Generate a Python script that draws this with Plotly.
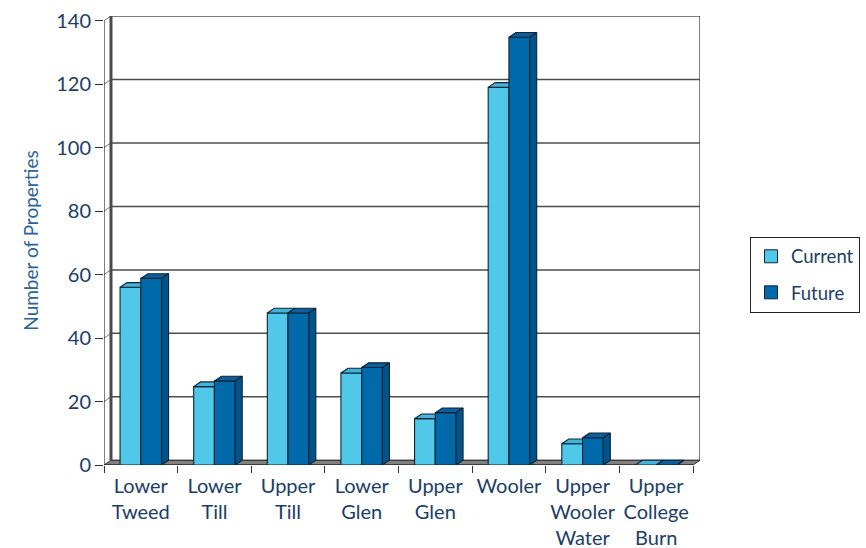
import plotly.graph_objects as go

categories = ["Lower<br>Tweed", "Lower<br>Till", "Upper<br>Till", "Lower<br>Glen",
              "Upper<br>Glen", "Wooler", "Upper<br>Wooler<br>Water", "Upper<br>College<br>Burn"]
current = [56, 24.7, 47.9, 29, 14.6, 119, 6.7, 0]
future = [58.8, 26.5, 47.9, 30.7, 16.5, 134.8, 8.6, 0]
y_ticks = [0, 20, 40, 60, 80, 100, 120, 140]
series_names = ["Current", "Future"]

# styling / geometry
W, H = 866, 548
ML, MR, MT, MB = 104, 166, 16, 82.5
YMAX = 140
DY = 1.48          # depth offset in y units
DX = 0.095         # depth offset in x units
BW = 0.282         # bar width in category units
XR = [-0.5, len(categories) - 0.5 + DX]

TXT = "#1b3d66"
FONT = "Lato"
OUT = "#0d2436"
cols = {
    "Current": dict(front="#50C8EA", top="#42B4DA", side="#2F9CC4"),
    "Future": dict(front="#0069A9", top="#0A5F9C", side="#00548A"),
}

fig = go.Figure()

for s, vals in enumerate([current, future]):
    name = series_names[s]
    c = cols[name]
    fx, fy, tx, ty, sx, sy = [], [], [], [], [], []
    for i, v in enumerate(vals):
        x0 = i - BW + s * BW
        x1 = x0 + BW
        fx += [x0, x1, x1, x0, x0, None]
        fy += [0, 0, v, v, 0, None]
        tx += [x0, x1, x1 + DX, x0 + DX, x0, None]
        ty += [v, v, v + DY, v + DY, v, None]
        sx += [x1, x1 + DX, x1 + DX, x1, x1, None]
        sy += [0, DY, v + DY, v, 0, None]
    for xs, ys, col in [(fx, fy, c["front"]), (tx, ty, c["top"]), (sx, sy, c["side"])]:
        fig.add_trace(go.Scatter(x=xs, y=ys, mode="lines", fill="toself", fillcolor=col,
                                 line=dict(color=OUT, width=1.1), hoverinfo="skip",
                                 showlegend=False))

# legend entries
for s, name in enumerate(series_names):
    fig.add_trace(go.Scatter(x=[None], y=[None], mode="markers", name=name,
                             legendgroup=name,
                             marker=dict(symbol="square", size=13, color=cols[name]["front"],
                                         line=dict(color=OUT, width=1))))

shapes = []
x_left = -0.5
x_right = len(categories) - 0.5
# back wall
shapes.append(dict(type="rect", xref="x", yref="y", x0=x_left + DX, x1=x_right + DX,
                   y0=DY, y1=YMAX + DY, fillcolor="white", line=dict(color="black", width=1),
                   layer="below"))
# gridlines on back wall + left wall diagonals
for v in y_ticks[1:-1]:
    shapes.append(dict(type="line", xref="x", yref="y", x0=x_left + DX, x1=x_right + DX,
                       y0=v + DY, y1=v + DY, line=dict(color="#4d4d4d", width=1.5), layer="below"))
for v in y_ticks[1:]:
    shapes.append(dict(type="line", xref="x", yref="y", x0=x_left, x1=x_left + DX,
                       y0=v, y1=v + DY, line=dict(color="#555555", width=0.8), layer="below"))
# floor
shapes.append(dict(type="path", xref="x", yref="y",
                   path=f"M {x_left},0 L {x_right},0 L {x_right + DX},{DY} L {x_left + DX},{DY} Z",
                   fillcolor="#808080", line=dict(color="#333333", width=1), layer="below"))
# back corner line
shapes.append(dict(type="line", xref="x", yref="y", x0=x_left + DX, x1=x_left + DX,
                   y0=DY, y1=YMAX + DY, line=dict(color="#4a4a4a", width=3), layer="below"))
# front axes lines
shapes.append(dict(type="line", xref="x", yref="y", x0=x_left, x1=x_left, y0=0, y1=YMAX,
                   line=dict(color="black", width=1), layer="below"))
shapes.append(dict(type="line", xref="x", yref="y", x0=x_left, x1=x_right, y0=0, y1=0,
                   line=dict(color="#222222", width=1), layer="below"))

fig.update_layout(
    width=W, height=H,
    margin=dict(l=ML, r=MR, t=MT, b=MB, pad=0, autoexpand=False),
    paper_bgcolor="white", plot_bgcolor="white",
    shapes=shapes,
    font=dict(family=FONT, color=TXT),
    legend=dict(x=(750 - ML) / (W - ML - MR), y=1 - (237 - MT) / (H - MT - MB),
                xanchor="left", yanchor="top", bordercolor="#222222", borderwidth=1,
                font=dict(size=18.5, color=TXT, family=FONT), tracegroupgap=9,
                traceorder="grouped", bgcolor="white"),
    xaxis=dict(range=XR, tickvals=list(range(len(categories))), ticktext=categories,
               ticks="outside", ticklen=3, tickcolor="rgba(0,0,0,0)", automargin=False,
               minor=dict(tickvals=[i - 0.5 for i in range(len(categories) + 1)],
                          ticks="outside", ticklen=7, tickcolor="#333333", tickwidth=1.2,
                          showgrid=False),
               showgrid=False, zeroline=False, showline=False,
               tickfont=dict(size=20, color=TXT, family=FONT), fixedrange=True),
    yaxis=dict(range=[0, YMAX + DY], tickvals=y_ticks, ticks="outside", ticklen=8,
               tickcolor="#333333", showgrid=False, zeroline=False, showline=False,
               automargin=False,
               tickfont=dict(size=20, color=TXT, family=FONT),
               title=dict(text="Number of Properties", standoff=12,
                          font=dict(size=19, color="#2d6399", family=FONT)),
               fixedrange=True),
    showlegend=True,
)

fig.write_html("out.html")
